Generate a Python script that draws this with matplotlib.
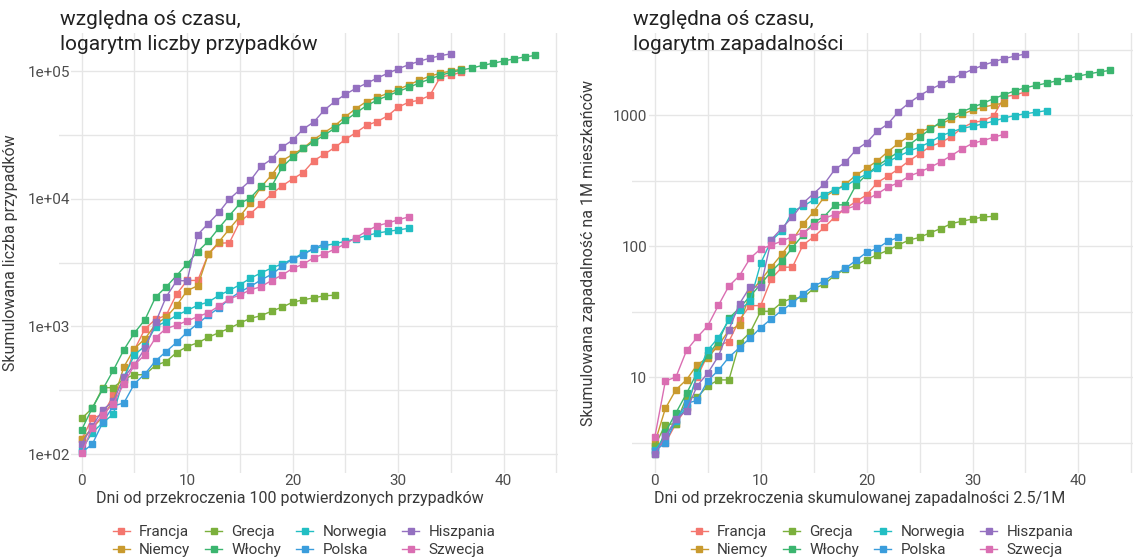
import matplotlib
matplotlib.use("Agg")
import matplotlib.pyplot as plt
import numpy as np

plt.rcParams['font.family'] = ['Roboto', 'DejaVu Sans']

countries = ['Francja', 'Niemcy', 'Grecja', 'Włochy', 'Norwegia', 'Polska', 'Hiszpania', 'Szwecja']
colors = ['#F4766E', '#C99A2E', '#7BB03C', '#3BB56F', '#22BEC3', '#3A9DDC', '#9470C0', '#DA6EB2']

# population, millions
population = [65.27, 83.78, 10.42, 60.46, 5.42, 37.85, 46.75, 10.10]

# cumulative confirmed cases, one value per day, last value = 6 April
cases_francja = [130, 191, 204, 288, 380, 656, 957, 1134, 1217, 1792, 2289, 2289, 3672, 4480, 4513,
                 6650, 7652, 9043, 10871, 12612, 14282, 16018, 19856, 22304, 25233, 29155, 32964,
                 37575, 40174, 44550, 52128, 56989, 59105, 64338, 89953, 92839, 98010]
cases_niemcy = [130, 159, 196, 262, 482, 670, 799, 1040, 1176, 1457, 1908, 2078, 3675, 4585, 5795,
                7272, 9257, 12327, 15320, 19848, 22213, 24873, 29056, 32986, 37323, 43938, 50871,
                57695, 62095, 66885, 71808, 77872, 84794, 91159, 96092, 100123, 103374]
cases_grecja = [10, 31, 45, 46, 73, 73, 89, 99, 99, 190, 228, 331, 331, 387, 418, 418, 495, 530,
                624, 695, 743, 821, 892, 966, 1061, 1156, 1212, 1314, 1415, 1544, 1613, 1673, 1735, 1755]
cases_wlochy = [62, 155, 229, 322, 453, 655, 888, 1128, 1694, 2036, 2502, 3089, 3858, 4636, 5883,
                7375, 9172, 10149, 12462, 12462, 17660, 21157, 24747, 27980, 31506, 35713, 41035,
                47021, 53578, 59138, 63927, 69176, 74386, 80589, 86498, 92472, 97689, 101739,
                105792, 110574, 115242, 119827, 124632, 128948, 132547]
cases_norwegia = [6, 15, 19, 25, 32, 56, 87, 108, 147, 176, 205, 400, 598, 702, 996, 1090, 1221,
                  1333, 1463, 1550, 1746, 1914, 2118, 2385, 2621, 2863, 3084, 3369, 3755, 4015,
                  4284, 4445, 4641, 4863, 5147, 5370, 5550, 5687, 5865]
cases_polska = [68, 103, 119, 177, 238, 251, 355, 425, 536, 634, 749, 901, 1051, 1221, 1389, 1638,
                1862, 2055, 2311, 2554, 2946, 3383, 3627, 4102, 4413]
cases_hiszpania = [84, 120, 165, 222, 259, 400, 500, 673, 1073, 1695, 2277, 2277, 5232, 6391, 7798,
                   9942, 11748, 13910, 17963, 20410, 25374, 28768, 35136, 39885, 49515, 57786,
                   65719, 73235, 80110, 87956, 95923, 104118, 112065, 119199, 126168, 131646, 136675]
cases_szwecja = [21, 35, 94, 101, 161, 203, 248, 355, 500, 599, 814, 961, 1022, 1103, 1190, 1279,
                 1439, 1639, 1763, 1934, 2046, 2286, 2526, 2840, 3069, 3447, 3700, 4028, 4435,
                 4947, 5568, 6131, 6443, 6830, 7206]

all_cases = [cases_francja, cases_niemcy, cases_grecja, cases_wlochy,
             cases_norwegia, cases_polska, cases_hiszpania, cases_szwecja]

case_threshold = 100
incidence_threshold = 2.5

W, H = 1139, 560
fig = plt.figure(figsize=(W / 100, H / 100), dpi=100)

grid_col = '#e6e6e6'
tick_col = '#4d4d4d'
text_col = '#3a3a3a'
axis_title_size = 11.5


def px_axes(x0, x1, y0, y1):
    return fig.add_axes([x0 / W, 1 - y1 / H, (x1 - x0) / W, (y1 - y0) / H])


def style(ax, yticks, ylabels, ylim, label_pad):
    ax.set_yscale('log')
    ax.set_xlim(-2.15, 45.15)
    ax.set_ylim(*ylim)
    for s in ax.spines.values():
        s.set_visible(False)
    ax.set_xticks([0, 10, 20, 30, 40])
    ax.set_xticks([5, 15, 25, 35, 45], minor=True)
    ax.set_yticks(yticks)
    ax.set_yticklabels(ylabels)
    lo, hi = np.log10(ylim)
    minors = [10 ** (k + 0.5) for k in range(-1, 7) if lo < k + 0.5 < hi]
    ax.set_yticks(minors, minor=True)
    ax.yaxis.set_minor_formatter(plt.NullFormatter())
    ax.grid(True, which='both', color=grid_col, lw=1.0)
    ax.set_axisbelow(True)
    ax.tick_params(which='both', length=0, labelsize=11, labelcolor=tick_col)
    ax.tick_params(axis='x', pad=0.5)
    ax.tick_params(axis='y', pad=label_pad)
    for lab in ax.get_yticklabels():
        lab.set_bbox(dict(facecolor='white', edgecolor='none', pad=1.0))


# left panel: cases
ax1 = px_axes(59, 558, 33, 473)
for name, col, cases in zip(countries, colors, all_cases):
    c = np.array(cases, dtype=float)
    start = np.argmax(c > case_threshold)
    y = c[start:]
    ax1.plot(np.arange(len(y)), y, color=col, lw=1.0, marker='s', ms=3.8, label=name)
style(ax1, [1e2, 1e3, 1e4, 1e5], ['1e+02', '1e+03', '1e+04', '1e+05'], (71, 198600), -8)
ax1.yaxis.set_label_coords(-0.082, 0.5)
ax1.set_ylabel('Skumulowana liczba przypadków', fontsize=axis_title_size, color=text_col)

# right panel: incidence per 1M
ax2 = px_axes(632, 1133, 33, 473)
for name, col, cases, pop in zip(countries, colors, all_cases, population):
    inc = np.array(cases, dtype=float) / pop
    start = np.argmax(inc > incidence_threshold)
    y = inc[start:]
    ax2.plot(np.arange(len(y)), y, color=col, lw=1.0, marker='s', ms=3.8, label=name)
style(ax2, [10, 100, 1000], ['10', '100', '1000'], (1.85, 4227), -11)
ax2.yaxis.set_label_coords(-0.072, 0.5)
ax2.set_ylabel('Skumulowana zapadalność na 1M mieszkańców', fontsize=axis_title_size, color=text_col)

# x titles
fig.text(290 / W, 1 - 498 / H, 'Dni od przekroczenia 100 potwierdzonych przypadków',
         ha='center', va='center', fontsize=axis_title_size, color=text_col)
fig.text(860 / W, 1 - 498 / H, 'Dni od przekroczenia skumulowanej zapadalności 2.5/1M',
         ha='center', va='center', fontsize=axis_title_size, color=text_col)

# titles
title_kw = dict(fontsize=15, color='#222222', ha='left', va='baseline')
fig.text(60 / W, 1 - 25 / H, 'względna oś czasu,', **title_kw)
fig.text(60 / W, 1 - 50 / H, 'logarytm liczby przypadków', **title_kw)
fig.text(633 / W, 1 - 25 / H, 'względna oś czasu,', **title_kw)
fig.text(633 / W, 1 - 50 / H, 'logarytm zapadalności', **title_kw)

# legends
for ax, cx in [(ax1, 304), (ax2, 882)]:
    h, l = ax.get_legend_handles_labels()
    fig.legend(h, l, loc='center', bbox_to_anchor=(cx / W, 1 - 541 / H), ncol=4,
               frameon=False, fontsize=11, handlelength=1.1, handletextpad=0.6,
               columnspacing=1.0, labelspacing=0.25, labelcolor=text_col)

fig.savefig('out.png', dpi=100, facecolor='white')
